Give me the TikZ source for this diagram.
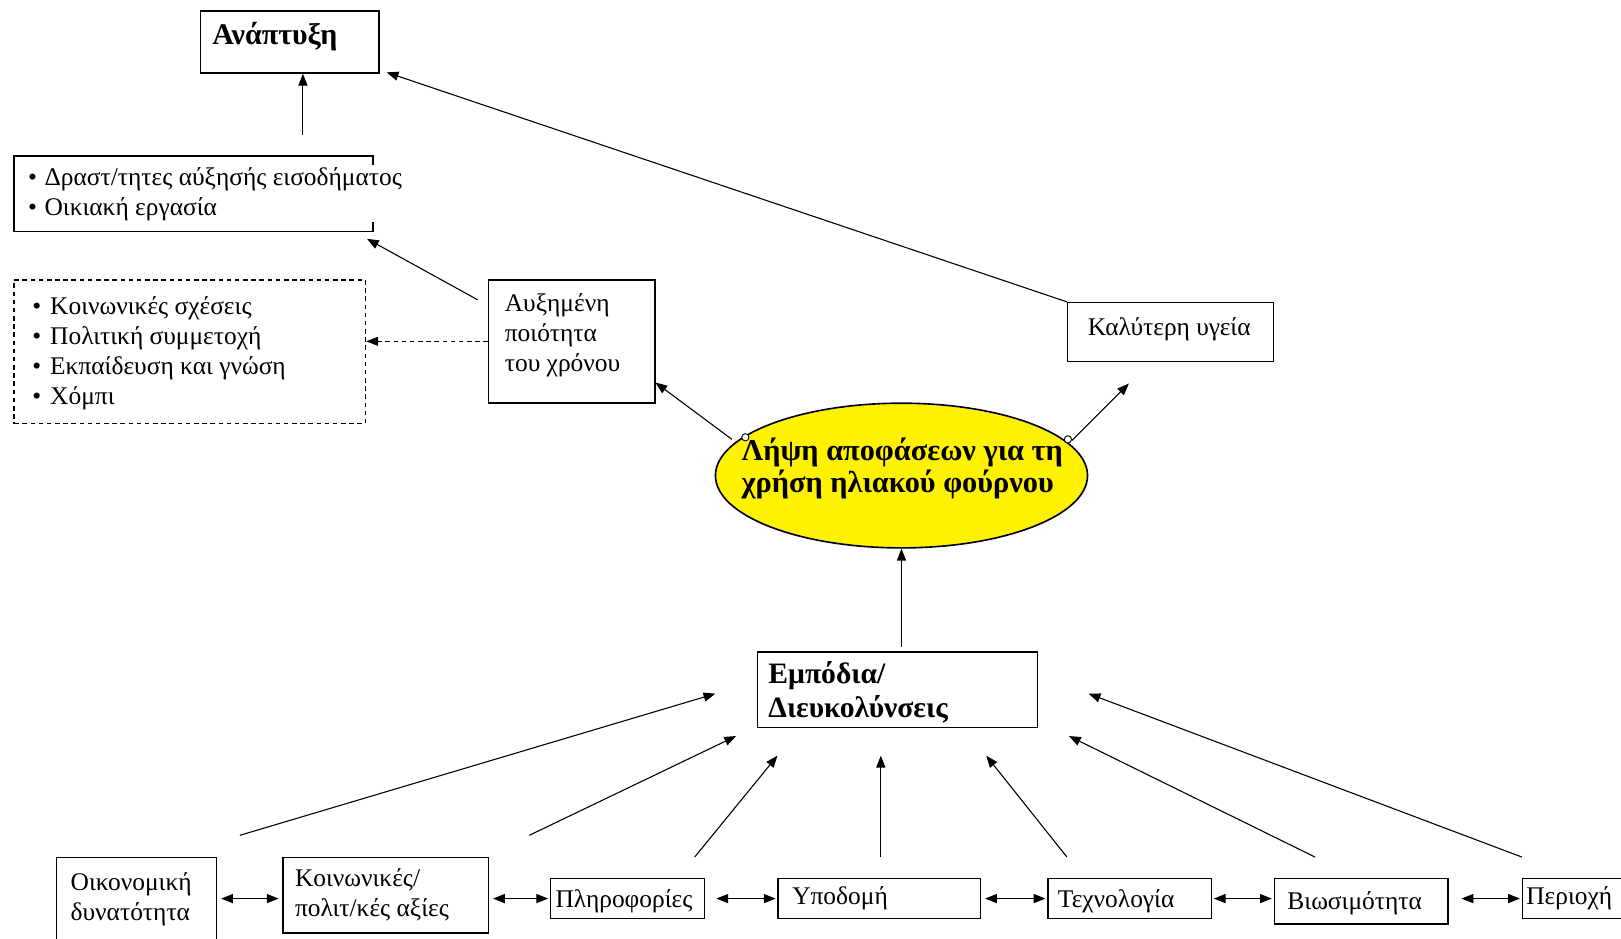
\documentclass[tikz,border=0pt]{standalone}
\usepackage{fontspec}
\setmainfont{Liberation Serif}
\usetikzlibrary{arrows.meta,shapes.geometric}
\begin{document}
\begin{tikzpicture}[x=0.02cm,y=-0.02cm,
  every node/.style={font=\fontsize{14}{16.5}\selectfont},
  box/.style={draw,line width=0.8pt,inner sep=0pt,anchor=north west},
  txt/.style={inner sep=0pt,anchor=west,align=left},
  boldtxt/.style={txt,font=\fontsize{16.7}{17.6}\selectfont\bfseries},
  arr/.style={line width=0.6pt,-{Triangle[length=6.5pt,width=5pt]}},
  darr/.style={line width=0.6pt,{Triangle[length=6.5pt,width=5pt]}-{Triangle[length=6.5pt,width=5pt]}},
]
\useasboundingbox (0,0) rectangle (1568,908);
% ---- top boxes
\node[box,minimum width=3.46cm,minimum height=1.2cm] (anaptyxi) at (193,10) {};
\node[boldtxt,font=\fontsize{16.5}{18}\selectfont\bfseries] (anaptyxiT) at (205,35) {Ανάπτυξη};

\node[box,minimum width=6.94cm,minimum height=1.46cm] (drast) at (13,150) {};
\node[txt,fill=white,inner sep=1pt] (drastT) at (25,187.5) {•\hspace{0.3em}Δραστ/τητες αύξησής εισοδήματος\\•\hspace{0.3em}Οικιακή εργασία};

\node[box,dashed,dash pattern=on 2.5pt off 2pt,minimum width=6.8cm,minimum height=2.78cm] (social) at (13,270) {};
\node[txt] (socialT) at (31,342) {•\hspace{0.35em}Κοινωνικές σχέσεις\\•\hspace{0.35em}Πολιτική συμμετοχή\\•\hspace{0.35em}Εκπαίδευση και γνώση\\•\hspace{0.35em}Χόμπι};

\node[box,minimum width=3.22cm,minimum height=2.38cm] (auxim) at (472,270) {};
\node[txt] (auximT) at (488,324.5) {Αυξημένη\\ποιότητα\\του χρόνου};

\node[box,minimum width=3.98cm,minimum height=1.14cm] (kalyt) at (1032,292) {};
\node[txt] (kalytT) at (1052,318) {Καλύτερη υγεία};

% ---- ellipse
\node[ellipse,draw=black!85!blue,line width=0.9pt,fill=yellow,minimum width=7.2cm,minimum height=2.8cm,inner sep=0pt] (lipsi) at (872,460) {};
\node[boldtxt] (lipsiT) at (717,453.5) {Λήψη αποφάσεων για τη\\χρήση ηλιακού φούρνου};

% ---- middle box
\node[box,minimum width=5.42cm,minimum height=1.46cm] (empodia) at (732,630) {};
\node[boldtxt,font=\fontsize{16.3}{18.7}\selectfont\bfseries] (empodiaT) at (743,670) {Εμπόδια/\\Διευκολύνσεις};

% ---- bottom boxes
\node[box,minimum width=3.1cm,minimum height=1.7cm] (oikon) at (54,829) {};
\node[txt] (oikonT) at (68,869.5) {Οικονομική\\δυνατότητα};
\node[box,minimum width=3.98cm,minimum height=1.46cm] (koin) at (273,829) {};
\node[txt] (koinT) at (285,865.5) {Κοινωνικές/\\πολιτ/κές αξίες};
\node[box,minimum width=2.98cm,minimum height=0.78cm] (plir) at (532,849) {};
\node[txt] (plirT) at (537,872) {Πληροφορίες};
\node[box,minimum width=3.92cm,minimum height=0.78cm] (ypod) at (752,849) {};
\node[txt] (ypodT) at (766,869) {Υποδομή};
\node[box,minimum width=3.16cm,minimum height=0.78cm] (tech) at (1013,849) {};
\node[txt] (techT) at (1023,872) {Τεχνολογία};
\node[box,minimum width=3.36cm,minimum height=0.88cm] (bios) at (1232,849) {};
\node[txt] (biosT) at (1245,874) {Βιωσιμότητα};
\node[box,minimum width=2.3cm,minimum height=0.78cm] (perioxi) at (1472,849) {};
\node[txt] (perioxiT) at (1476,869) {Περιοχή};

% ---- coordinates
\coordinate (c1) at (293,131);
\coordinate (longT) at (374,70);
\coordinate (d1) at (462,290);
\coordinate (d1t) at (355,231);
\coordinate (e1) at (708,425);
\coordinate (e1t) at (634,370);
\coordinate (e2) at (1037,426);
\coordinate (e2t) at (1092,371);
\coordinate (b1) at (232,808);   \coordinate (b1t) at (692,671);
\coordinate (b2) at (512,808);   \coordinate (b2t) at (712,712);
\coordinate (b3) at (672,829);   \coordinate (b3t) at (752,731);
\coordinate (b4) at (852,829);   \coordinate (b4t) at (852,731);
\coordinate (b5) at (1032,829);  \coordinate (b5t) at (954,731);
\coordinate (b6) at (1272,829);  \coordinate (b6t) at (1034,712);
\coordinate (b7) at (1472,829);  \coordinate (b7t) at (1053,671);
\coordinate (m1) at (872,626);

% ---- connectors (top)
\draw[arr] (c1) -- (c1 |- anaptyxi.south);
\draw[arr] (kalyt.north west) -- (longT);
\draw[arr] (d1) -- (d1t);
\draw[arr,dashed,dash pattern=on 2.5pt off 2pt] (auxim.west) -- (social.east |- auxim.west);
\draw[arr] (e1) -- (e1t);
\draw[arr] (e2) -- (e2t);
\draw[line width=0.5pt,fill=white] (721,423) circle (3.5);
\draw[line width=0.5pt,fill=white] (1033,425) circle (3.5);
\draw[arr] (m1) -- (m1 |- lipsi.south);

% ---- connectors (bottom)
\foreach \i in {1,...,7} {\draw[arr] (b\i) -- (b\i t);}
\draw[darr,shorten <=2pt,shorten >=2pt] (oikon.east |- plir.east) -- (koin.west |- plir.east);
\draw[darr,shorten <=2pt,shorten >=1pt] (koin.east |- plir.east) -- (plir.west);
\draw[darr,shorten <=6pt,shorten >=1pt] (plir.east) -- (ypod.west);
\draw[darr,shorten <=2pt,shorten >=1pt] (ypod.east) -- (tech.west);
\draw[darr,shorten <=1pt,shorten >=1pt] (tech.east) -- (bios.west |- tech.east);
\draw[darr,shorten <=7pt,shorten >=1pt] (bios.east |- tech.east) -- (perioxi.west);
\end{tikzpicture}
\end{document}
